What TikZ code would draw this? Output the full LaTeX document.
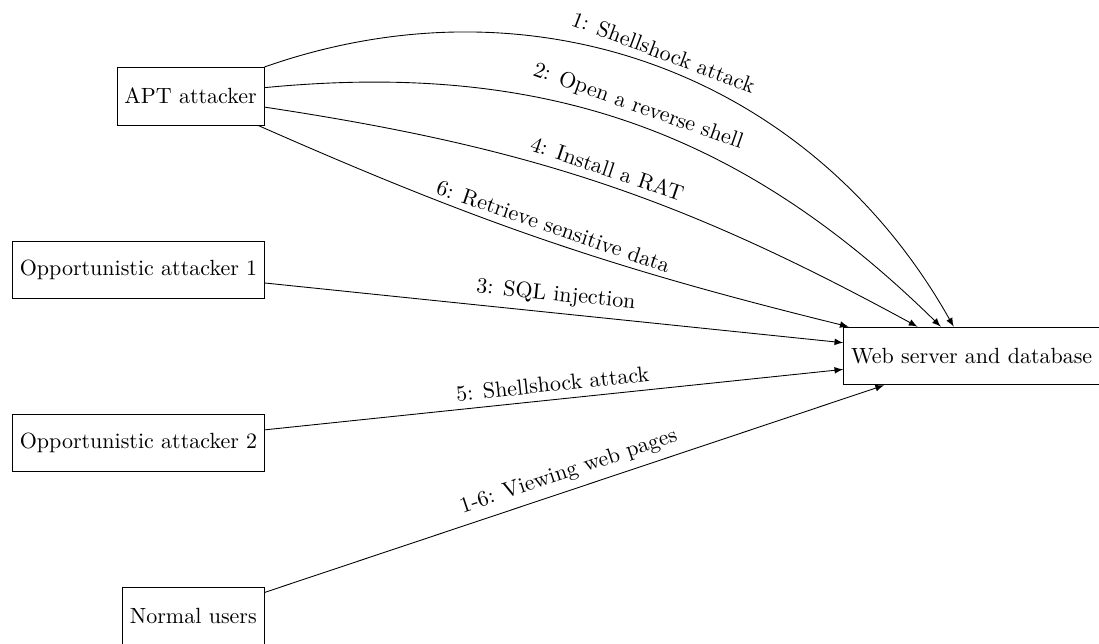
\documentclass[tikz,border=0pt]{standalone}
\usetikzlibrary{arrows}
\begin{document}
\begin{tikzpicture}[x=0.4545pt,y=-0.4545pt,
  box/.style={draw, minimum height=26.2pt, inner sep=3.33pt},
  conn/.style={-latex},
  lbl/.style={above, sloped, midway}]
\useasboundingbox (0,0) rectangle (1099,644);
\node[box, anchor=east] (apt) at (264.5,96.2) {APT attacker};
\node[box, anchor=east] (opp1) at (265,270) {Opportunistic attacker 1};
\node[box, anchor=east] (opp2) at (265,443) {Opportunistic attacker 2};
\node[box, anchor=east] (users) at (264.5,616.2) {Normal users};
\node[box, anchor=west] (web) at (843.3,356) {Web server and database};
\draw[conn] (apt) to[bend left=40] node[lbl] {1: Shellshock attack} (web);
\draw[conn] (apt) to[bend left=25] node[lbl] {2: Open a reverse shell} (web);
\draw[conn] (apt) to[bend left=10] node[lbl] {4: Install a RAT} (web);
\draw[conn] (apt) to[bend right=5] node[lbl] {6: Retrieve sensitive data} (web);
\draw[conn] (opp1) -- node[lbl] {3: SQL injection} (web);
\draw[conn] (opp2) -- node[lbl] {5: Shellshock attack} (web);
\draw[conn] (users) -- node[lbl] {1-6: Viewing web pages} (web);
\end{tikzpicture}
\end{document}
